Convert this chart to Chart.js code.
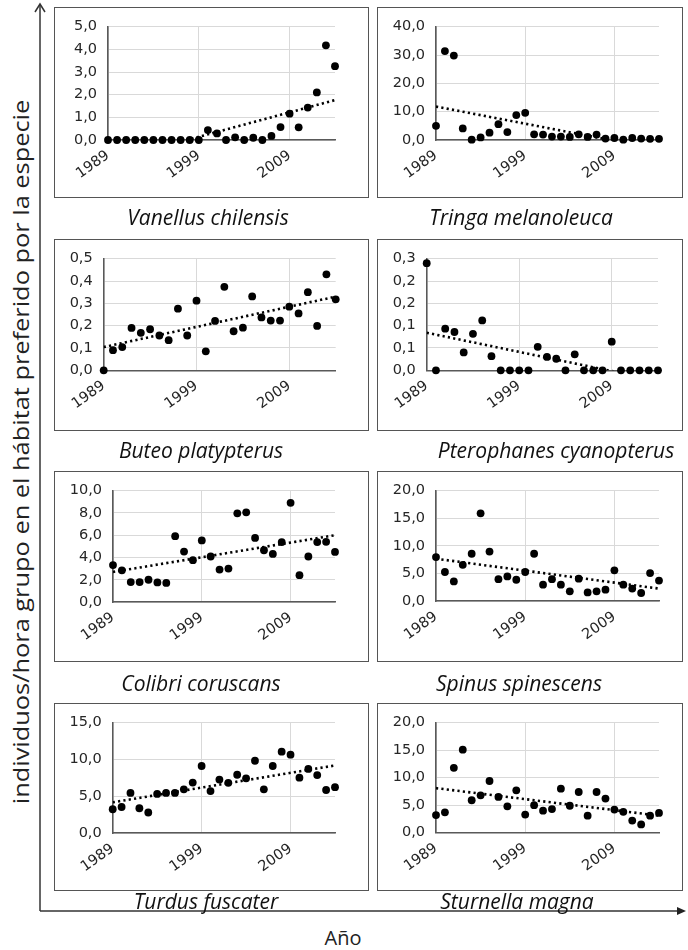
<!DOCTYPE html>
<html><head><meta charset="utf-8">
<script src="https://cdn.jsdelivr.net/npm/chart.js@4.4.1/dist/chart.umd.min.js"></script>
<style>
html,body{margin:0;padding:0;background:#fff;}
body{width:688px;height:950px;position:relative;overflow:hidden;font-family:"Open Sans",sans-serif;color:#111;}
canvas{position:absolute;}
.box{position:absolute;border:1.5px solid #555;box-sizing:border-box;pointer-events:none;}
.cap{position:absolute;font-style:italic;font-size:21px;white-space:nowrap;transform:translate(-50%,-50%);line-height:1;color:#111;}
#ylab{position:absolute;left:21px;top:452px;transform:translate(-50%,-50%) rotate(-90deg) scaleX(1.18);font-size:21.5px;white-space:nowrap;line-height:1;color:#222;}
#xlab{position:absolute;left:343px;top:938px;transform:translate(-50%,-50%);font-size:20px;line-height:1;color:#222;}
svg{position:absolute;left:0;top:0;}
</style></head><body>
<svg width="688" height="950">
 <line x1="40" y1="911" x2="40" y2="4" stroke="#333" stroke-width="1.5"/>
 <polyline points="35,12 40,4 45,12" fill="none" stroke="#333" stroke-width="1.5"/>
 <line x1="40" y1="911" x2="678" y2="911" stroke="#333" stroke-width="1.5"/>
 <polygon points="686,911 677,907 677,915" fill="#222"/>
</svg>
<div id="ylab">individuos/hora grupo en el hábitat preferido por la especie</div>
<div id="xlab">Año</div>
<script>
// ---- data ----
const years = [1989,1990,1991,1992,1993,1994,1995,1996,1997,1998,1999,2000,2001,2002,2003,2004,2005,2006,2007,2008,2009,2010,2011,2012,2013,2014];
const xTicks = [1989,1999,2009];
const species = ["Vanellus chilensis","Tringa melanoleuca","Buteo platypterus","Pterophanes cyanopterus","Colibri coruscans","Spinus spinescens","Turdus fuscater","Sturnella magna"];
const vanellus  = [0,0,0,0,0,0,0,0,0,0,0,0.44,0.29,0,0.12,0,0.1,0,0.18,0.57,1.16,0.56,1.43,2.1,4.18,3.26];
const tringa    = [5.0,31.4,29.8,4.1,0.1,0.9,2.6,5.6,2.8,8.8,9.6,2.0,1.9,1.2,1.2,1.1,2.0,1.1,1.9,0.5,0.7,0.1,0.7,0.5,0.4,0.4];
const buteo     = [0.0,0.09,0.104,0.19,0.168,0.184,0.156,0.135,0.276,0.156,0.312,0.085,0.221,0.374,0.175,0.191,0.331,0.237,0.223,0.223,0.285,0.255,0.35,0.199,0.43,0.318];
const pterophanes = [0.288,0,0.112,0.103,0.048,0.098,0.134,0.038,0,0,0,0,0.063,0.036,0.031,0,0.043,0,0,0,0.077,0,0,0,0,0];
const colibri   = [3.32,2.85,1.79,1.79,2.0,1.76,1.71,5.91,4.53,3.76,5.53,4.09,2.91,3.0,7.97,8.06,5.76,4.65,4.32,5.38,8.91,2.41,4.09,5.38,5.41,4.5];
const spinus    = [8.0,5.3,3.6,6.6,8.6,15.9,9.0,4.0,4.5,3.9,5.3,8.6,3.0,4.0,3.0,1.8,4.1,1.6,1.8,2.1,5.6,3.0,2.3,1.5,5.1,3.75];
const turdus    = [3.26,3.57,5.47,3.4,2.82,5.34,5.47,5.47,5.96,6.88,9.13,5.73,7.28,6.84,7.94,7.45,9.84,5.96,9.13,11.07,10.67,7.54,8.73,7.9,5.87,6.26];
const sturnella = [3.2,3.7,11.8,15.1,5.9,6.8,9.4,6.5,4.8,7.7,3.3,5.0,4.0,4.3,8.0,4.9,7.4,3.1,7.4,6.2,4.2,3.8,2.2,1.5,3.1,3.6];
// dotted trend lines, values read at 1989 and 2014
const trendStart = [-0.94,11.8,0.104,0.101,2.7,7.7,4.2,8.1];
const trendEnd   = [1.76,-3.3,0.33,-0.028,6.0,2.3,9.2,3.1];
const yMax  = [5,40,0.5,0.3,10,20,15,20];
const yStep = [1,10,0.1,0.06,2,5,5,5];

const seriesList = [vanellus,tringa,buteo,pterophanes,colibri,spinus,turdus,sturnella];

// ---- layout (box, plot area) ----
const boxes = [
 [54,7,369,198],[377,7,683,198],
 [54,239,369,431],[377,239,683,431],
 [54,471,369,662],[377,471,683,662],
 [54,703,369,891],[377,703,683,891]];
const areas = [
 [108,26.7,335,140],[436,26.7,659,140],
 [103.7,258,335.7,370.3],[426.7,258,658,370.3],
 [113,488.7,335,602],[436,487.7,659,601.3],
 [112.7,720,335,833.3],[436,719,659,832.7]];
const caps = [[208,217],[521,217],[201,450],[556,450],[201,683],[519,683],[206,901],[517,901]];

const tickFont = {family:"DejaVu Sans", size:14.5};
const fmt = v => (Math.round(v*10)/10).toFixed(1).replace('.',',');

seriesList.forEach((vals,i)=>{
  const [bl,bt,br,bb] = boxes[i];
  const [al,at,ar,ab] = areas[i];
  const W = br-bl, H = bb-bt;
  const cv = document.createElement('canvas');
  cv.width = W; cv.height = H;
  cv.style.left = bl+'px'; cv.style.top = bt+'px';
  cv.style.width = W+'px'; cv.style.height = H+'px';
  document.body.appendChild(cv);
  const bx = document.createElement('div');
  bx.className='box';
  bx.style.left=bl+'px'; bx.style.top=bt+'px'; bx.style.width=W+'px'; bx.style.height=H+'px';
  document.body.appendChild(bx);
  const cap = document.createElement('div');
  cap.className='cap'; cap.textContent = species[i];
  cap.style.left=caps[i][0]+'px'; cap.style.top=caps[i][1]+'px';
  document.body.appendChild(cap);

  const yT = [];
  for(let k=0;k*yStep[i]<=yMax[i]+1e-9;k++) yT.push(+(k*yStep[i]).toFixed(4));

  new Chart(cv,{
    type:'scatter',
    data:{datasets:[
      {data: years.map((y,j)=>({x:y,y:vals[j]})), backgroundColor:'#000', borderColor:'#000',
       pointRadius:3.9, pointHoverRadius:3.9, borderWidth:0, clip:false, order:0},
      {type:'line', data:[{x:years[0],y:trendStart[i]},{x:years[years.length-1],y:trendEnd[i]}],
       borderColor:'#000', borderWidth:2.6, borderDash:[2.2,3.2], borderCapStyle:'butt', pointRadius:0, fill:false, order:1}
    ]},
    options:{
      responsive:false, animation:false, devicePixelRatio:1,
      events:[],
      layout:{padding:{left:0,right:br-ar,top:at-bt,bottom:0}},
      plugins:{legend:{display:false},tooltip:{enabled:false}},
      scales:{
        x:{type:'linear',min:years[0],max:years[years.length-1],
           afterBuildTicks:s=>{s.ticks=xTicks.map(v=>({value:v}));},
           afterFit:s=>{s.height=bb-ab;},
           grid:{color:'#d9d9d9',lineWidth:1,drawTicks:false},
           border:{color:'#595959',width:1.6},
           ticks:{autoSkip:false,minRotation:35,maxRotation:35,padding:7,color:'#262626',font:tickFont,callback:v=>String(v)}},
        y:{min:0,max:yMax[i],
           afterBuildTicks:s=>{s.ticks=yT.map(v=>({value:v}));},
           afterFit:s=>{s.width=al-bl;},
           grid:{color:'#d9d9d9',lineWidth:1,drawTicks:false},
           border:{color:'#595959',width:1.6},
           ticks:{padding:11,color:'#262626',font:tickFont,callback:v=>fmt(v)}}
      }
    }
  });
});
</script>
</body></html>
